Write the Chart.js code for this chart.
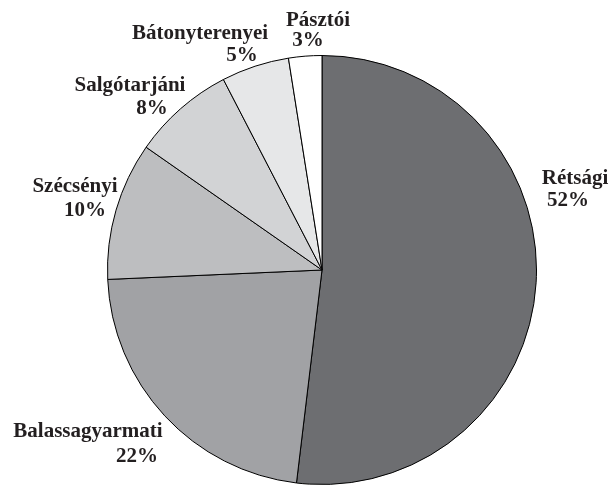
<!DOCTYPE html>
<html>
<head>
<meta charset="utf-8">
<script src="https://cdn.jsdelivr.net/npm/chart.js@4"></script>
<style>
  html, body { margin:0; padding:0; background:#fff; }
  #wrap { width:609px; height:485px; position:relative; }
</style>
</head>
<body>
<div id="wrap"><canvas id="pie"></canvas></div>
<script>
// slices, clockwise from 12 o'clock
const categories = ['Rétsági', 'Balassagyarmati', 'Szécsényi', 'Salgótarjáni', 'Bátonyterenyei', 'Pásztói'];
const shares = [51.9, 22.4, 10.4, 7.7, 5.1, 2.5];
const fills = ['#6d6e71', '#a1a2a5', '#bdbec0', '#d2d3d5', '#e6e7e8', '#ffffff'];

// label anchors: name line centre/baseline, percent line centre/baseline
const labelSpots = [
  { nx: 575, ny: 184, px: 568, py: 206 },
  { nx: 88,  ny: 437, px: 137, py: 462 },
  { nx: 75,  ny: 192, px: 85,  py: 216 },
  { nx: 130, ny: 91,  px: 152, py: 114 },
  { nx: 200, ny: 39,  px: 242, py: 61 },
  { nx: 318, ny: 26,  px: 308, py: 46 }
];

const outsideLabels = {
  id: 'outsideLabels',
  afterDraw(chart) {
    const c = chart.ctx;
    const vals = chart.data.datasets[0].data;
    const total = vals.reduce((a,b)=>a+b,0);
    c.save();
    c.fillStyle = '#231f20';
    c.font = 'bold 21px "Liberation Serif", serif';
    c.textAlign = 'center';
    c.textBaseline = 'alphabetic';
    chart.data.labels.forEach((name, i) => {
      const s = labelSpots[i];
      c.fillText(name, s.nx, s.ny);
      c.fillText(Math.round(vals[i] / total * 100) + '%', s.px, s.py);
    });
    c.restore();
  }
};

new Chart(document.getElementById('pie'), {
  type: 'pie',
  data: {
    labels: categories,
    datasets: [{ data: shares, backgroundColor: fills, borderColor: '#000', borderWidth: 1 }]
  },
  options: {
    responsive: true, maintainAspectRatio: false, animation: false,
    layout: { padding: { left: 107, right: 72, top: 55, bottom: 0 } },
    plugins: { legend: { display: false }, tooltip: { enabled: false } }
  },
  plugins: [outsideLabels]
});
</script>
</body>
</html>
